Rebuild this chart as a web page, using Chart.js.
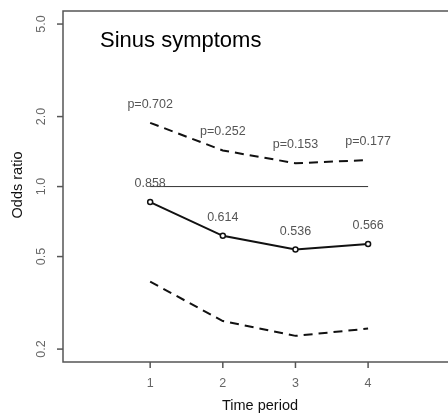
<!DOCTYPE html>
<html>
<head>
<meta charset="utf-8">
<script src="https://cdn.jsdelivr.net/npm/chart.js@4"></script>
<style>
  html, body { margin: 0; padding: 0; background: #fff; }
  #wrap { width: 448px; height: 417px; }
</style>
</head>
<body>
<div id="wrap"><canvas id="orChart" width="448" height="417"></canvas></div>
<script>
// data
const periods = [1, 2, 3, 4];
const estimate = [0.858, 0.614, 0.536, 0.566];
const upper = [1.88, 1.43, 1.26, 1.30];
const lower = [0.39, 0.264, 0.228, 0.245];
const estLabels = ['0.858', '0.614', '0.536', '0.566'];
const pLabels = ['p=0.702', 'p=0.252', 'p=0.153', 'p=0.177'];
const yTicks = [0.2, 0.5, 1.0, 2.0, 5.0];
const yTickLabels = ['0.2', '0.5', '1.0', '2.0', '5.0'];
const xTicks = [1, 2, 3, 4];

const FONT = '"Liberation Sans", Arial, sans-serif';

function pts(ys) {
  return periods.map((x, i) => ({ x: x, y: ys[i] }));
}

const decor = {
  id: 'decor',
  afterDraw(chart) {
    const ctx = chart.ctx;
    const a = chart.chartArea;
    const xs = chart.scales.x, ys = chart.scales.y;
    ctx.save();
    // box (right side falls outside the picture)
    ctx.strokeStyle = '#555';
    ctx.lineWidth = 1.5;
    ctx.beginPath();
    ctx.moveTo(chart.width, a.top);
    ctx.lineTo(a.left, a.top);
    ctx.lineTo(a.left, a.bottom);
    ctx.lineTo(chart.width, a.bottom);
    ctx.stroke();

    // y ticks + rotated labels
    ctx.fillStyle = '#666';
    ctx.font = '12.5px ' + FONT;
    yTicks.forEach((v, i) => {
      const py = ys.getPixelForValue(v);
      ctx.beginPath();
      ctx.moveTo(a.left - 6, py);
      ctx.lineTo(a.left, py);
      ctx.stroke();
      ctx.save();
      ctx.translate(42, py);
      ctx.rotate(-Math.PI / 2);
      ctx.textAlign = 'center';
      ctx.textBaseline = 'middle';
      ctx.fillText(yTickLabels[i], 0, 0);
      ctx.restore();
    });

    // x ticks + labels
    xTicks.forEach(v => {
      const px = xs.getPixelForValue(v);
      ctx.beginPath();
      ctx.moveTo(px, a.bottom);
      ctx.lineTo(px, a.bottom + 6);
      ctx.stroke();
      ctx.textAlign = 'center';
      ctx.textBaseline = 'middle';
      ctx.fillText(String(v), px, 384);
    });

    // axis titles
    ctx.fillStyle = '#111';
    ctx.font = '14.5px ' + FONT;
    ctx.textAlign = 'center';
    ctx.textBaseline = 'middle';
    ctx.fillText('Time period', 260, 406);
    ctx.save();
    ctx.translate(18, 185);
    ctx.rotate(-Math.PI / 2);
    ctx.fillText('Odds ratio', 0, 0);
    ctx.restore();

    // title inside the plot
    ctx.fillStyle = '#000';
    ctx.font = '22px ' + FONT;
    ctx.textAlign = 'left';
    ctx.textBaseline = 'alphabetic';
    ctx.fillText('Sinus symptoms', 100, 47);

    // value and p labels above the lines
    ctx.fillStyle = '#555';
    ctx.font = '12.5px ' + FONT;
    ctx.textAlign = 'center';
    ctx.textBaseline = 'middle';
    periods.forEach((x, i) => {
      const px = xs.getPixelForValue(x);
      ctx.fillText(estLabels[i], px, ys.getPixelForValue(estimate[i] * 1.2));
      ctx.fillText(pLabels[i], px, ys.getPixelForValue(upper[i] * 1.2));
    });
    ctx.restore();
  }
};

new Chart(document.getElementById('orChart').getContext('2d'), {
  type: 'line',
  data: {
    datasets: [
      {
        label: 'reference',
        data: [{ x: periods[0], y: 1 }, { x: periods[periods.length - 1], y: 1 }],
        borderColor: '#333',
        borderWidth: 1,
        pointRadius: 0
      },
      {
        label: 'upper',
        data: pts(upper),
        borderColor: '#111',
        borderWidth: 2,
        borderDash: [9, 6],
        pointRadius: 0
      },
      {
        label: 'lower',
        data: pts(lower),
        borderColor: '#111',
        borderWidth: 2,
        borderDash: [9, 6],
        pointRadius: 0
      },
      {
        label: 'estimate',
        data: pts(estimate),
        borderColor: '#111',
        borderWidth: 2,
        pointRadius: 2.5,
        pointBorderWidth: 1.5,
        pointBackgroundColor: '#fff',
        pointBorderColor: '#111'
      }
    ]
  },
  options: {
    responsive: false,
    animation: false,
    layout: { autoPadding: false, padding: { left: 63, top: 11, right: 0, bottom: 55 } },
    scales: {
      x: { type: 'linear', min: -0.2, max: 5.1, display: false },
      y: { type: 'logarithmic', min: 0.176, max: 5.69, display: false }
    },
    plugins: {
      legend: { display: false },
      tooltip: { enabled: false }
    }
  },
  plugins: [decor]
});
</script>
</body>
</html>
